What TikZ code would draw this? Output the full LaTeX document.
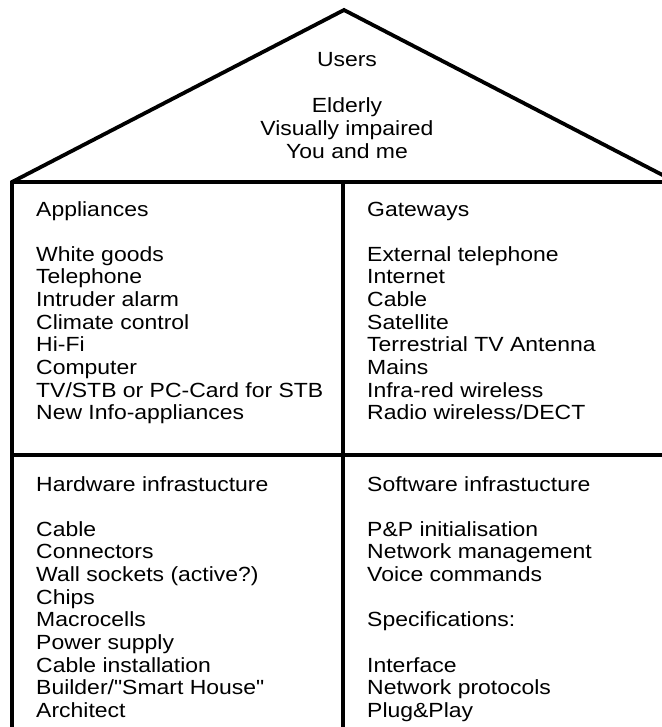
\documentclass[tikz,border=0pt]{standalone}
\usepackage{fontspec}
\newfontfamily\housefont{Liberation Sans}[FakeStretch=1.12]
\begin{document}
\begin{tikzpicture}[x=1bp,y=-1bp,
  txt/.style={inner sep=0pt, font=\housefont\fontsize{20.5bp}{22.7bp}\selectfont},
  wall/.style={line width=3.8bp, line join=miter, line cap=butt}]
\useasboundingbox (0,0) rectangle (662,727);
\clip (0,0) rectangle (662,727);
% house outline
\coordinate (apex) at (344,10);
\coordinate (eaveL) at (12,182);
\coordinate (eaveR) at (676,182);
\coordinate (footL) at (12,740);
\coordinate (midT) at (343,182);
\coordinate (midB) at (343,740);
\coordinate (floorL) at (12,455);
\coordinate (floorR) at (670,455);
\draw[wall] (footL) -- (eaveL) -- (apex) -- (eaveR);
\draw[wall] (eaveL) -- (eaveR);
\draw[wall] (midT) -- (midB);
\draw[wall] (floorL) -- (floorR);
% roof: users
\node[txt, anchor=base] (users) at (347,67) {Users};
\foreach [count=\i] \t in {Elderly, Visually impaired, You and me}
  \node[txt, anchor=base] (u\i) at (347,{113+(\i-1)*22.7}) {\t};
% appliances
\node[txt, anchor=base west] (appl) at (36,216) {Appliances};
\foreach [count=\i] \t in {White goods, Telephone, Intruder alarm, Climate control, Hi-Fi, Computer, TV/STB or PC-Card for STB, New Info-appliances}
  \node[txt, anchor=base west] (a\i) at (36,{261+(\i-1)*22.7}) {\t};
% gateways
\node[txt, anchor=base west] (gate) at (367,216) {Gateways};
\foreach [count=\i] \t in {External telephone, Internet, Cable, Satellite, Terrestrial TV Antenna, Mains, Infra-red wireless, Radio wireless/DECT}
  \node[txt, anchor=base west] (g\i) at (367,{261+(\i-1)*22.7}) {\t};
% hardware
\node[txt, anchor=base west] (hw) at (36,491) {Hardware infrastucture};
\foreach [count=\i] \t in {Cable, Connectors, Wall sockets (active?), Chips, Macrocells, Power supply, Cable installation, Builder/"Smart House", Architect}
  \node[txt, anchor=base west] (h\i) at (36,{536+(\i-1)*22.7}) {\t};
% software
\node[txt, anchor=base west] (sw) at (367,491) {Software infrastucture};
\foreach [count=\i] \k/\t in {0/P\&P initialisation, 1/Network management, 2/Voice commands, 4/Specifications:, 6/Interface, 7/Network protocols, 8/Plug\&Play}
  \node[txt, anchor=base west] (s\i) at (367,{536+\k*22.7}) {\t};
\end{tikzpicture}
\end{document}
